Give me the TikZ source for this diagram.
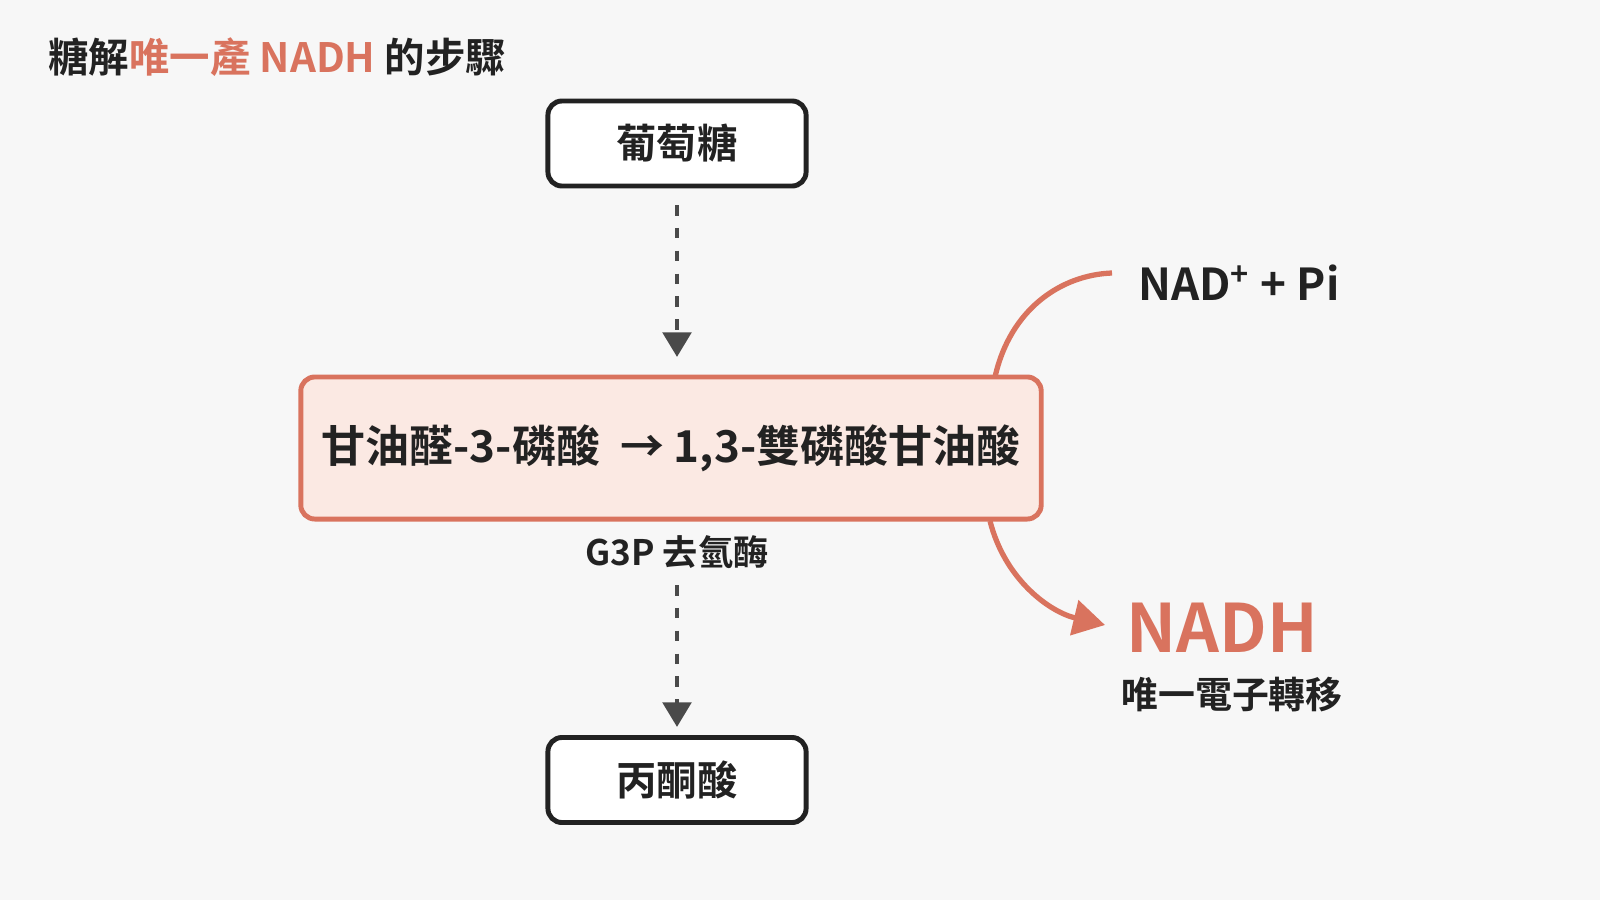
\documentclass[tikz,border=0pt]{standalone}
\usepackage{fontspec}
\setmainfont{Noto Sans CJK TC}[BoldFont={* Bold}]
\usetikzlibrary{arrows.meta}
\definecolor{accent}{HTML}{D9735E}
\definecolor{pink}{HTML}{FBE9E3}
\definecolor{ink}{HTML}{222222}
\definecolor{dashgray}{HTML}{4A4A4A}
\begin{document}
\begin{tikzpicture}[x=0.01cm,y=-0.01cm,
  box/.style={draw=ink,line width=1.4pt,rounded corners=4pt,fill=white,minimum width=2.58cm,minimum height=0.85cm,font=\bfseries\fontsize{11.5}{13}\selectfont,text=ink},
  flow/.style={draw=dashgray,line width=1.4pt,dash pattern=on 3pt off 3.5pt,-{Triangle[length=7pt,width=8pt]}},
  curv/.style={draw=accent,line width=1.5pt}]
\fill[white!97!black] (0,0) rectangle (1600,900);
\node[anchor=west,font=\bfseries\fontsize{11.5}{13}\selectfont,text=ink] (title) at (36,57) {糖解\textcolor{accent}{唯一產 NADH} 的步驟};
\node[box] (glc) at (677,143.5) {葡萄糖};
\node[box,draw=accent,fill=pink,minimum width=7.4cm,minimum height=1.42cm,font=\bfseries\fontsize{12.5}{14}\selectfont] (mid) at (671,448) {甘油醛-3-磷酸 \ → 1,3-雙磷酸甘油酸};
\node[box] (pyr) at (677,780) {丙酮酸};
\node[font=\bfseries\fontsize{10}{12}\selectfont,text=ink] (enz) at (677,552) {G3P 去氫酶};
\coordinate (a1) at (677,205); \coordinate (a2) at (677,357);
\coordinate (b1) at (677,585); \coordinate (b2) at (677,727);
\draw[flow] (a1) -- (a2);
\draw[flow] (b1) -- (b2);
\node[anchor=west,font=\bfseries\fontsize{12.5}{14}\selectfont,text=ink] (nad) at (1126,283) {NAD\textsuperscript{+} + Pi};
\node[font=\bfseries\fontsize{19}{21}\selectfont,text=accent] (nadh) at (1222,628) {NADH};
\node[font=\bfseries\fontsize{10.5}{12}\selectfont,text=ink] (sub) at (1232,695) {唯一電子轉移};
\coordinate (c1) at (995,377); \coordinate (c2) at (1112,273);
\draw[curv] (c1) .. controls (1010,310) and (1060,275) .. (c2);
\coordinate (d1) at (990,521); \coordinate (d2) at (1105,625);
\draw[curv,-{Triangle[length=9pt,width=10pt]}] (d1) .. controls (1005,580) and (1050,612) .. (d2);
\end{tikzpicture}
\end{document}
